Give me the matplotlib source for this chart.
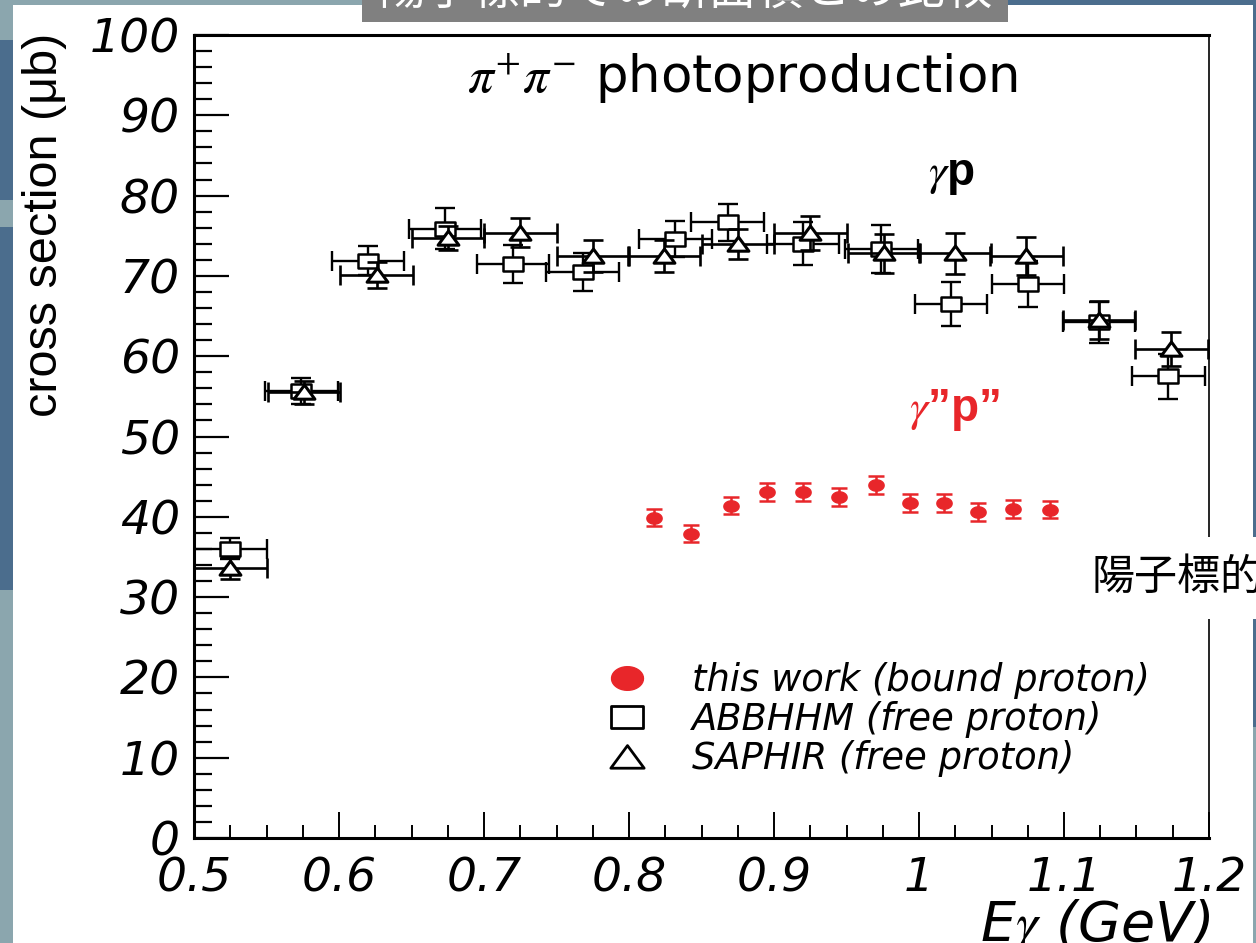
import numpy as np
import matplotlib
matplotlib.use("Agg")
import matplotlib.pyplot as plt
from matplotlib.patches import Rectangle
from matplotlib.path import Path
from matplotlib.lines import Line2D
from matplotlib.ticker import MultipleLocator

# ---- data ----
# ABBHHM (free proton), open squares
abb_x = [0.525, 0.574, 0.620, 0.673, 0.720, 0.768, 0.832, 0.868, 0.920, 0.974, 1.022, 1.075, 1.124, 1.172]
abb_y = [36.0, 55.7, 71.9, 75.9, 71.5, 70.5, 74.6, 76.7, 74.0, 73.4, 66.5, 69.0, 64.2, 57.5]
abb_yerr = [1.3, 1.6, 1.8, 2.5, 2.4, 2.4, 2.2, 2.3, 2.7, 3.0, 2.8, 2.9, 2.6, 2.8]
abb_xerr = [0.025] * 14

# SAPHIR (free proton), open triangles
sap_x = [0.525, 0.576, 0.626, 0.675, 0.725, 0.775, 0.824, 0.875, 0.925, 0.976, 1.025, 1.074, 1.124, 1.174]
sap_y = [33.6, 55.5, 70.1, 74.7, 75.4, 72.5, 72.5, 74.0, 75.3, 72.8, 72.8, 72.5, 64.5, 60.9]
sap_yerr = [1.4, 1.4, 1.6, 1.5, 1.8, 2.0, 2.0, 1.9, 2.1, 2.4, 2.6, 2.4, 2.4, 2.1]
sap_xerr = [0.025] * 14

# this work (bound proton), red dots
tw_x = [0.817, 0.843, 0.870, 0.895, 0.920, 0.945, 0.970, 0.994, 1.017, 1.041, 1.065, 1.090]
tw_y = [39.9, 37.9, 41.4, 43.1, 43.1, 42.5, 44.0, 41.75, 41.75, 40.6, 41.0, 40.9]
tw_yerr = [1.1] * 12

legend_labels = ["this work (bound proton)", "ABBHHM (free proton)", "SAPHIR (free proton)"]

W, H = 1256, 943
RED = "#e8262a"
plt.rcParams["mathtext.fontset"] = "stix"

# wide markers (the original picture is stretched sideways)
box = Path([(-1.4, -1), (1.4, -1), (1.4, 1), (-1.4, 1), (-1.4, -1)],
           [Path.MOVETO, Path.LINETO, Path.LINETO, Path.LINETO, Path.CLOSEPOLY])
tri = Path([(-1.4, -0.9), (1.4, -0.9), (0, 1.0), (-1.4, -0.9)],
           [Path.MOVETO, Path.LINETO, Path.LINETO, Path.CLOSEPOLY])
t = np.linspace(0, 2 * np.pi, 40)
ell = Path(np.column_stack([1.35 * np.cos(t), np.sin(t)]), closed=True)


def fr(x0, y0, x1, y1):
    # pixel box (top-left origin) -> figure fraction rect args
    return (x0 / W, 1 - y1 / H), (x1 - x0) / W, (y1 - y0) / H


fig = plt.figure(figsize=(W / 100, H / 100), dpi=100)
fig.patch.set_facecolor("#8ba6ae")

# slide background pieces
for (x0, y0, x1, y1), c in [((0, 40, 13, 200), "#4b6d8d"), ((0, 227, 13, 590), "#4b6d8d"),
                            ((1000, 0, 1256, 5), "#4b6d8d"), ((1253, 0, 1256, 727), "#4b6d8d"),
                            ((13, 5, 1253, 943), "white"), ((362, -10, 1008, 22), "#808080")]:
    xy, w, h = fr(x0, y0, x1, y1)
    fig.add_artist(Rectangle(xy, w, h, transform=fig.transFigure, facecolor=c, edgecolor="none", zorder=0))

fig.text(685 / W, 1 + 9 / H, "陽子標的での断面積との比較", color="white", fontsize=34,
         family=["Noto Sans CJK JP", "DejaVu Sans"], ha="center", va="center")

ax = fig.add_axes([194 / W, 1 - 838 / H, (1209 - 194) / W, (838 - 35) / H])
ax.set_facecolor("white")

ax.errorbar(abb_x, abb_y, xerr=abb_xerr, yerr=abb_yerr, fmt="none", ecolor="black",
            elinewidth=1.7, capsize=7.5, capthick=1.7, zorder=2)
ax.plot(abb_x, abb_y, linestyle="none", marker=box, markersize=15, markerfacecolor="white",
        markeredgecolor="black", markeredgewidth=1.8, zorder=3)
ax.errorbar(sap_x, sap_y, xerr=sap_xerr, yerr=sap_yerr, fmt="none", ecolor="black",
            elinewidth=1.9, capsize=7.5, capthick=1.9, zorder=4)
ax.plot(sap_x, sap_y, linestyle="none", marker=tri, markersize=15, markerfacecolor="white",
        markeredgecolor="black", markeredgewidth=2.2, zorder=5)
ax.errorbar(tw_x, tw_y, yerr=tw_yerr, fmt="none", ecolor=RED, elinewidth=1.8,
            capsize=5.5, capthick=1.8, zorder=6)
ax.plot(tw_x, tw_y, linestyle="none", marker=ell, markersize=11, color=RED, zorder=7)

ax.set_xlim(0.5, 1.2)
ax.set_ylim(0, 100)
ax.xaxis.set_minor_locator(MultipleLocator(0.025))
ax.yaxis.set_major_locator(MultipleLocator(10))
ax.yaxis.set_minor_locator(MultipleLocator(2))
ax.set_xticks([0.5, 0.6, 0.7, 0.8, 0.9, 1.0, 1.1, 1.2])
ax.set_xticklabels(["0.5", "0.6", "0.7", "0.8", "0.9", "1", "1.1", "1.2"])

ax.tick_params(axis="y", which="major", direction="in", length=25, width=1.6, pad=10)
ax.tick_params(axis="y", which="minor", direction="in", length=13, width=1.6)
ax.tick_params(axis="x", which="major", direction="in", length=19, width=1.4, pad=13)
ax.tick_params(axis="x", which="minor", direction="in", length=9.5, width=1.4)
for lab in ax.get_xticklabels() + ax.get_yticklabels():
    lab.set_fontfamily("DejaVu Sans")
    lab.set_fontstyle("italic")
    lab.set_fontsize(34)

for s in ["left", "bottom", "top"]:
    ax.spines[s].set_linewidth(2.2)
ax.spines["right"].set_linewidth(1.2)

fig.text(742 / W, 1 - 78 / H, r"$\pi^{+}\pi^{-}$ photoproduction", fontsize=37,
         family="DejaVu Sans", ha="center", va="center")
fig.text(952 / W, 1 - 175 / H, r"$\gamma$p", fontsize=33, fontweight="bold",
         family="Liberation Sans", ha="center", va="center")
fig.text(955 / W, 1 - 410 / H, r"$\gamma$”p”", fontsize=33, fontweight="bold", color=RED,
         family="Liberation Sans", ha="center", va="center")

fig.text(45 / W, 1 - 33 / H, "cross section (μb)", rotation=90, fontsize=35,
         family=["Liberation Sans Narrow", "Liberation Sans"], ha="center", va="top")
fig.text(1210 / W, 1 - 897 / H, r"E$\gamma$ (GeV)", fontsize=40, style="italic",
         family="DejaVu Sans", ha="right", va="top")

handles = [Line2D([], [], linestyle="none", marker=ell, markersize=23, color=RED),
           Line2D([], [], linestyle="none", marker=box, markersize=23, markerfacecolor="white",
                  markeredgecolor="black", markeredgewidth=2),
           Line2D([], [], linestyle="none", marker=tri, markersize=24, markerfacecolor="white",
                  markeredgecolor="black", markeredgewidth=2)]
leg = ax.legend(handles, legend_labels, loc="upper left", bbox_to_anchor=(609 / W, 1 - 662 / H),
                bbox_transform=fig.transFigure, frameon=False, borderpad=0, borderaxespad=0,
                handlelength=1.0, handletextpad=1.25, labelspacing=0.06,
                prop={"family": "DejaVu Sans", "style": "italic", "size": 26.6})

fig.text(1092 / W, 1 - 578 / H, "陽子標的での", fontsize=31, family=["Noto Sans CJK JP", "DejaVu Sans"],
         ha="left", va="center", zorder=10,
         bbox=dict(facecolor="white", edgecolor="none", pad=14))

fig.savefig("out.png", dpi=100, facecolor=fig.get_facecolor())
